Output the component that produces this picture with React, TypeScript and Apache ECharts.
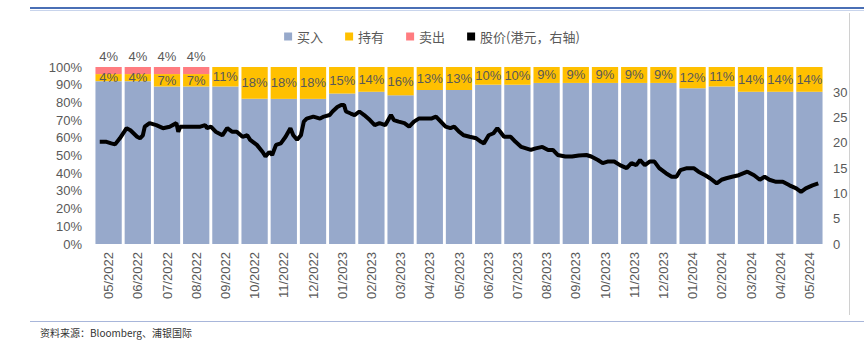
import React, { useEffect, useRef } from "react";
import * as echarts from "echarts";

const months = [
  "05/2022", "06/2022", "07/2022", "08/2022", "09/2022", "10/2022", "11/2022", "12/2022",
  "01/2023", "02/2023", "03/2023", "04/2023", "05/2023", "06/2023", "07/2023", "08/2023",
  "09/2023", "10/2023", "11/2023", "12/2023", "01/2024", "02/2024", "03/2024", "04/2024", "05/2024",
];
const buyPct = [92, 92, 89, 89, 89, 82, 82, 82, 85, 86, 84, 87, 87, 90, 90, 91, 91, 91, 91, 91, 88, 89, 86, 86, 86];
const holdPct = [4, 4, 7, 7, 11, 18, 18, 18, 15, 14, 16, 13, 13, 10, 10, 9, 9, 9, 9, 9, 12, 11, 14, 14, 14];
const sellPct = [4, 4, 4, 4, null, null, null, null, null, null, null, null, null, null, null, null, null, null, null, null, null, null, null, null, null];

const priceDates = [
  "2022-05-07", "2022-05-14", "2022-05-19", "2022-05-23", "2022-05-28", "2022-06-04", "2022-06-08", "2022-06-15",
  "2022-06-18", "2022-06-21", "2022-06-23", "2022-06-28", "2022-07-05", "2022-07-12", "2022-07-19", "2022-07-26",
  "2022-07-28", "2022-07-30", "2022-08-10", "2022-08-20", "2022-08-25", "2022-08-27", "2022-08-31", "2022-09-05",
  "2022-09-12", "2022-09-17", "2022-09-22", "2022-09-27", "2022-10-03", "2022-10-08", "2022-10-11", "2022-10-18",
  "2022-10-24", "2022-10-27", "2022-10-31", "2022-11-03", "2022-11-07", "2022-11-12", "2022-11-17", "2022-11-22",
  "2022-11-25", "2022-11-29", "2022-12-03", "2022-12-06", "2022-12-09", "2022-12-16", "2022-12-23", "2022-12-27",
  "2023-01-02", "2023-01-05", "2023-01-10", "2023-01-14", "2023-01-17", "2023-01-19", "2023-01-24", "2023-01-28",
  "2023-02-02", "2023-02-07", "2023-02-13", "2023-02-18", "2023-02-23", "2023-03-01", "2023-03-07", "2023-03-10",
  "2023-03-15", "2023-03-21", "2023-03-26", "2023-03-31", "2023-04-05", "2023-04-12", "2023-04-18", "2023-04-23",
  "2023-04-28", "2023-05-03", "2023-05-08", "2023-05-12", "2023-05-17", "2023-05-22", "2023-05-28", "2023-06-04",
  "2023-06-09", "2023-06-12", "2023-06-17", "2023-06-22", "2023-06-26", "2023-06-29", "2023-07-03", "2023-07-10",
  "2023-07-15", "2023-07-21", "2023-07-26", "2023-07-31", "2023-08-05", "2023-08-12", "2023-08-18", "2023-08-23",
  "2023-08-28", "2023-09-05", "2023-09-12", "2023-09-19", "2023-09-27", "2023-10-02", "2023-10-09", "2023-10-14",
  "2023-10-19", "2023-10-26", "2023-11-01", "2023-11-08", "2023-11-13", "2023-11-18", "2023-11-22", "2023-11-27",
  "2023-12-02", "2023-12-07", "2023-12-12", "2023-12-19", "2023-12-25", "2023-12-30", "2024-01-03", "2024-01-10",
  "2024-01-17", "2024-01-22", "2024-01-29", "2024-02-03", "2024-02-10", "2024-02-15", "2024-02-20", "2024-02-26",
  "2024-03-04", "2024-03-13", "2024-03-20", "2024-03-26", "2024-03-31", "2024-04-05", "2024-04-12", "2024-04-19",
  "2024-04-26", "2024-05-03", "2024-05-08", "2024-05-13", "2024-05-20", "2024-05-26",
];
const prices = [
  20.2, 20.2, 19.9, 19.7, 20.9, 22.9, 22.5, 21.2,
  20.9, 21.5, 23.2, 23.9, 23.5, 22.9, 23.2, 23.9,
  22.2, 23.2, 23.2, 23.2, 23.5, 22.9, 23.2, 22.2,
  21.5, 22.9, 22.2, 22.2, 21.2, 21.5, 20.6, 19.6,
  18.2, 17.3, 18.2, 17.6, 19.6, 19.9, 21.2, 22.9,
  21.5, 20.6, 21.5, 24.2, 24.8, 25.2, 24.8, 25.2,
  25.5, 26.2, 27.1, 27.5, 27.5, 26.2, 25.8, 25.5,
  26.2, 25.5, 24.5, 23.5, 23.9, 23.5, 25.5, 24.5,
  24.2, 23.9, 23.2, 24.2, 24.8, 24.8, 24.8, 25.2,
  24.2, 23.2, 22.9, 23.2, 22.2, 21.5, 21.2, 20.9,
  20.2, 19.9, 21.5, 21.9, 22.9, 22.2, 21.2, 21.2,
  20.2, 19.2, 18.9, 18.6, 18.9, 19.2, 18.6, 18.6,
  17.6, 17.3, 17.3, 17.5, 17.6, 17.3, 16.6, 16.0,
  16.3, 16.3, 15.6, 15.0, 16.0, 15.6, 16.6, 15.6,
  16.3, 16.3, 15.0, 14.0, 13.3, 13.3, 14.6, 15.0,
  15.0, 14.3, 13.6, 13.0, 12.0, 12.7, 13.0, 13.3,
  13.6, 14.3, 13.6, 12.7, 13.3, 12.7, 12.3, 12.3,
  11.6, 11.0, 10.3, 11.0, 11.6, 12.0,
];

const GREY = "#595959";
const FONT = "'Liberation Sans', 'Noto Sans CJK SC', sans-serif";
const CJK = "'Noto Sans CJK SC', sans-serif";

export default function App() {
  const ref = useRef<HTMLDivElement>(null);
  useEffect(() => {
    document.body.style.margin = "0";
    const chart = echarts.init(ref.current!, undefined, { renderer: "svg" });
    const priceData = priceDates.map((d, i) => [d, prices[i]]);
    chart.setOption({
      animation: false,
      backgroundColor: "#fff",
      textStyle: { fontFamily: FONT },
      legend: {
        top: 25,
        left: "center",
        itemWidth: 8,
        itemHeight: 8,
        itemGap: 22,
        icon: "rect",
        textStyle: { color: GREY, fontSize: 13, fontFamily: CJK },
        data: ["买入", "持有", "卖出", "股价(港元，右轴)"],
      },
      grid: { left: 94, right: 40, top: 67, bottom: 96 },
      xAxis: [
        {
          type: "category",
          data: months,
          axisLine: { show: false },
          axisTick: { show: false },
          axisLabel: { rotate: 90, color: GREY, fontSize: 13, margin: 8, fontFamily: FONT },
        },
        {
          type: "time",
          min: "2022-05-01",
          max: "2024-06-01",
          show: false,
        },
      ],
      yAxis: [
        {
          type: "value",
          min: 0,
          max: 100,
          interval: 10,
          splitLine: { show: false },
          axisLine: { show: false },
          axisTick: { show: false },
          axisLabel: { formatter: "{value}%", color: GREY, fontSize: 13, margin: 12 },
        },
        {
          type: "value",
          min: 0,
          max: 35,
          interval: 5,
          position: "right",
          splitLine: { show: false },
          axisLine: { show: false },
          axisTick: { show: false },
          axisLabel: {
            color: GREY,
            fontSize: 13,
            margin: 9,
            formatter: (v: number) => (v > 30 ? "" : String(v)),
          },
        },
      ],
      series: [
        {
          name: "买入",
          type: "bar",
          stack: "r",
          data: buyPct,
          barCategoryGap: "10%",
          itemStyle: { color: "#97A9CB" },
        },
        {
          name: "持有",
          type: "bar",
          stack: "r",
          data: holdPct,
          itemStyle: { color: "#FFC000" },
          label: { show: true, position: "inside", formatter: "{c}%", color: GREY, fontSize: 13 },
        },
        {
          name: "卖出",
          type: "bar",
          stack: "r",
          data: sellPct,
          itemStyle: { color: "#FF7C80" },
          label: { show: true, position: "top", distance: 4, formatter: "{c}%", color: GREY, fontSize: 13 },
        },
        {
          name: "股价(港元，右轴)",
          type: "line",
          xAxisIndex: 1,
          yAxisIndex: 1,
          data: priceData,
          showSymbol: false,
          itemStyle: { color: "#000" },
          lineStyle: { color: "#000", width: 4 },
          z: 5,
        },
      ],
      graphic: [
        { type: "line", shape: { x1: 30, y1: 8, x2: 864, y2: 8 }, style: { stroke: "#4A6FB5", lineWidth: 2 } },
        { type: "line", shape: { x1: 30, y1: 10.5, x2: 864, y2: 10.5 }, style: { stroke: "#C8D4EC", lineWidth: 1 } },
        { type: "line", shape: { x1: 849.5, y1: 13, x2: 849.5, y2: 315 }, style: { stroke: "#D0D0D0", lineWidth: 1 } },
        { type: "line", shape: { x1: 30, y1: 321.5, x2: 864, y2: 321.5 }, style: { stroke: "#A8B6DA", lineWidth: 1 } },
        {
          type: "text",
          left: 40,
          top: 327,
          style: { text: "资料来源：Bloomberg、浦银国际", fill: "#333", fontSize: 10, fontFamily: CJK },
        },
      ],
    });
    return () => chart.dispose();
  }, []);
  return <div ref={ref} style={{ width: 864, height: 340 }} />;
}
